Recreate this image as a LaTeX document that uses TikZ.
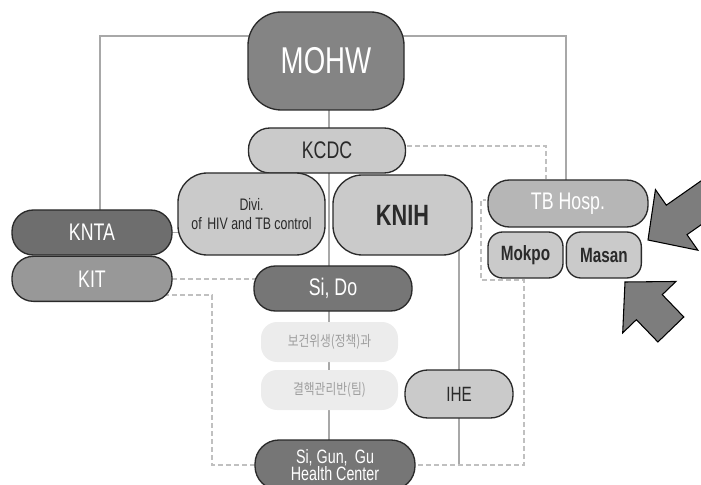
\documentclass[tikz,border=0pt]{standalone}
\usepackage{fontspec}
\setmainfont{Liberation Sans}[FakeStretch=0.74]
\newfontfamily\krfont{Noto Sans CJK KR}[FakeStretch=0.8]
\usetikzlibrary{positioning, backgrounds}
\definecolor{mohwgrey}{RGB}{132,132,132}
\definecolor{kntagrey}{RGB}{110,110,110}
\definecolor{sidogrey}{RGB}{118,118,118}
\definecolor{kitgrey}{RGB}{152,152,152}
\definecolor{hospgrey}{RGB}{182,182,182}
\definecolor{unitgrey}{RGB}{202,202,202}
\definecolor{palegrey}{RGB}{236,236,236}
\definecolor{linegrey}{RGB}{168,168,168}
\definecolor{dashgrey}{RGB}{192,192,192}
\definecolor{inkgrey}{RGB}{42,42,42}
\definecolor{arrowgrey}{RGB}{125,125,125}

\begin{document}
\begin{tikzpicture}[x=0.75pt, y=-0.75pt]

	\tikzstyle{box}=[rectangle, rounded corners=16pt, draw=inkgrey, line width=1pt, inner sep=0pt, align=center, minimum width=120pt, minimum height=33.75pt]
	\tikzstyle{govbox}=[box, fill=mohwgrey, text=white]
	\tikzstyle{darkbox}=[box, fill=kntagrey, text=white]
	\tikzstyle{localbox}=[box, fill=sidogrey, text=white]
	\tikzstyle{unitbox}=[box, fill=unitgrey, text=inkgrey]
	\tikzstyle{teambox}=[box, draw=none, fill=palegrey, text=black!38, rounded corners=12pt]
	\tikzstyle{link}=[draw=linegrey, line width=1.2pt]
	\tikzstyle{dashlink}=[draw=dashgrey, line width=1.5pt, dash pattern=on 3.5pt off 2.5pt]

	\def \hugefont {\fontsize{28}{30}\selectfont}
	\def \largefont {\fontsize{18}{20}\selectfont}
	\def \midfont {\fontsize{15.5}{17}\selectfont}
	\def \smallfont {\fontsize{12.5}{14}\selectfont}

	\def \pointer#1#2#3#4{
		\filldraw[fill=arrowgrey, draw=black, line width=0.8pt, shift={(#1,#2)}, rotate=#3]
			(0,0) -- (-35,37) -- (-35,18) -- (-#4,18) -- (-#4,-18) -- (-35,-18) -- (-35,-37) -- cycle;
	}

	\useasboundingbox (0,0) rectangle (701,485);

	\node at (326,61) (MOHW) [govbox, minimum width=117pt, minimum height=73.5pt, rounded corners=25pt] {\hugefont MOHW};
	\node at (327,150.5) (KCDC) [unitbox, minimum width=117.75pt] {\largefont KCDC};
	\node at (251.5,214) (Divi) [unitbox, minimum width=110.25pt, minimum height=61.5pt, rounded corners=22pt] {\smallfont Divi.\\[2pt]\smallfont of\,\,HIV and TB control};
	\node at (402.5,215) (KNIH) [unitbox, minimum width=104.25pt, minimum height=60pt, rounded corners=22pt] {\fontsize{22}{24}\selectfont\bfseries KNIH};
	\node at (92,232.5) (KNTA) [darkbox] {\largefont KNTA};
	\node [box, fill=kitgrey, text=white, below=0pt of KNTA] (KIT) {\largefont KIT};
	\node at (568,203.5) (TBHosp) [box, fill=hospgrey, text=white, minimum height=35.25pt] {\largefont TB Hosp.};
	\node at (525.5,255) (Mokpo) [unitbox, minimum width=56.25pt, minimum height=34.5pt, rounded corners=11pt] {\midfont\bfseries Mokpo};
	\node [unitbox, minimum width=56.25pt, minimum height=34.5pt, rounded corners=11pt, right=1.5pt of Mokpo] (Masan) {\midfont\bfseries Masan};
	\node at (333,288.5) (SiDo) [localbox, minimum width=118.5pt] {\largefont Si, Do};
	\node at (329.5,342) (hygiene) [teambox, minimum width=102.75pt, minimum height=30pt] {\krfont\fontsize{11}{13}\selectfont 보건위생(정책)과};
	\node at (329.5,390) (tbteam) [teambox, minimum width=102.75pt, minimum height=30pt] {\krfont\fontsize{11}{13}\selectfont 결핵관리반(팀)};
	\node at (459,394) (IHE) [unitbox, minimum width=81pt, minimum height=36pt, rounded corners=17pt] {\midfont IHE};
	\node at (335,465) (HC) [localbox, minimum height=37.5pt, rounded corners=18pt] {\fontsize{14.5}{17}\selectfont Si, Gun,\, Gu\\\fontsize{14.5}{17}\selectfont Health Center};

	\coordinate (spine) at (329,0);
	\coordinate (leftturn) at (100,36);
	\coordinate (rightturn) at (566,36);
	\coordinate (kcdcturn) at (546,146);
	\coordinate (kitturn) at (212,295);
	\coordinate (lowleft) at (212,465);
	\coordinate (lowright) at (524,465);
	\coordinate (hospturn) at (524,280);
	\coordinate (hospleft) at (481,280);
	\coordinate (hosptop) at (481,200);

	\begin{scope}[on background layer]
		\draw[link] (KNTA.center -| leftturn) -- (leftturn) -- (rightturn) -- (rightturn |- TBHosp.center);
		\draw[link] (spine |- MOHW.center) -- (spine |- HC.center);
		\draw[link] (KNTA.center) -- (KNTA.center -| Divi.center);
		\draw[link] (IHE.center |- KNIH.center) -- (IHE.center |- lowright);
		\draw[dashlink] (KCDC.center |- kcdcturn) -- (kcdcturn) -- (kcdcturn |- TBHosp.north);
		\draw[dashlink] (KIT.center) -- (KIT.center -| SiDo.center);
		\draw[dashlink] (KIT.center |- kitturn) -- (kitturn) -- (lowleft) -- (lowright) -- (hospturn) -- (hospleft) -- (hosptop) -- ++(5,0);
	\end{scope}

	\pointer{648}{240}{215}{95}
	\pointer{625}{282}{134}{66}

\end{tikzpicture}
\end{document}
